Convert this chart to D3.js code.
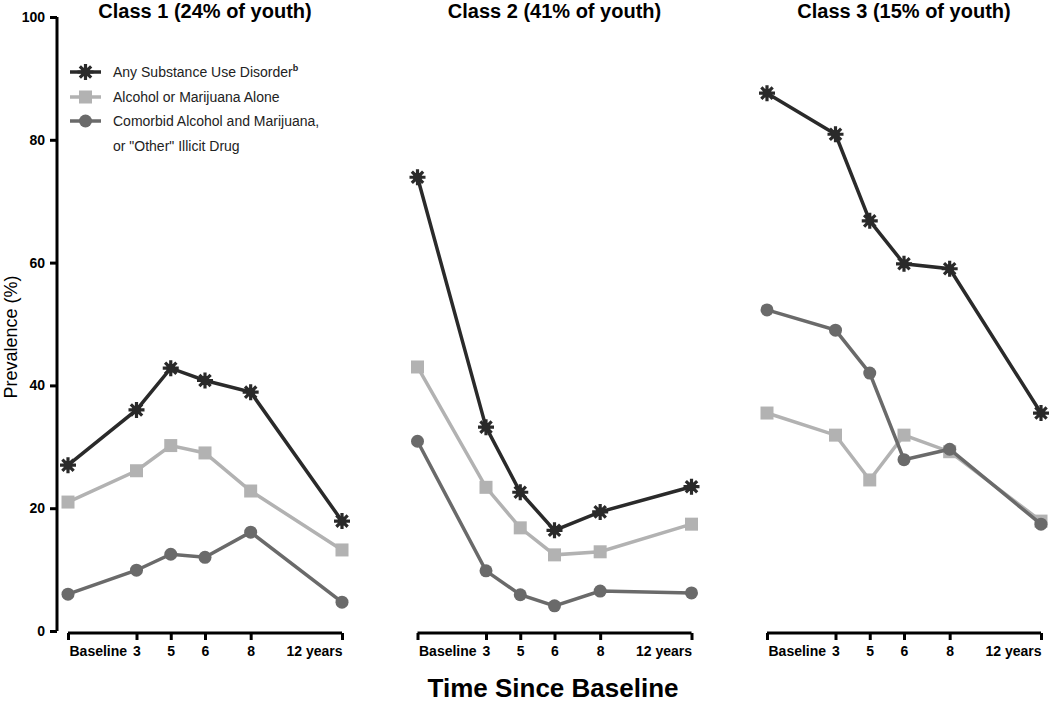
<!DOCTYPE html>
<html><head><meta charset="utf-8">
<script src="https://cdn.jsdelivr.net/npm/d3@7"></script>
<style>body{margin:0;background:#fff}svg{display:block;font-family:"Liberation Sans",Arial,sans-serif}</style>
</head><body>
<svg id="c" width="1050" height="704"></svg>
<script>
const timePoints = [0, 3, 4.5, 6, 8, 12];
const timeLabels = ["Baseline", "3", "5", "6", "8", "12 years"];
const classTitles = ["Class 1 (24% of youth)", "Class 2 (41% of youth)", "Class 3 (15% of youth)"];
const seriesNames = ["Any Substance Use Disorder", "Alcohol or Marijuana Alone", "Comorbid Alcohol and Marijuana,"];
const yTicks = [0, 20, 40, 60, 80, 100];

const sudValues = [
  [27.0, 36.0, 42.8, 40.8, 38.9, 17.9],
  [73.9, 33.2, 22.6, 16.4, 19.4, 23.5],
  [87.6, 80.9, 66.8, 59.8, 59.0, 35.5]
];
const aloneValues = [
  [21.0, 26.1, 30.2, 29.0, 22.8, 13.2],
  [43.0, 23.4, 16.8, 12.4, 12.9, 17.4],
  [35.5, 31.9, 24.6, 31.9, 29.2, 17.9]
];
const comorbidValues = [
  [6.0, 9.9, 12.5, 12.0, 16.1, 4.7],
  [30.9, 9.8, 5.9, 4.1, 6.5, 6.2],
  [52.3, 49.0, 42.0, 27.9, 29.6, 17.4]
];

const colors = ["#2a2a2a", "#b2b2b2", "#6a6a6a"];
const markers = ["star", "square", "circle"];

const svg = d3.select("#c");
const y = d3.scaleLinear().domain([0, 100]).range([631, 17]);
const panelLeft = [68, 417.5, 767];
const panelW = 274;

function starPath(r) {
  let p = "";
  for (let i = 0; i < 8; i++) {
    const a = i * Math.PI / 4;
    p += `M0,0L${(r * Math.cos(a)).toFixed(2)},${(r * Math.sin(a)).toFixed(2)}`;
  }
  return p;
}

function drawMarker(g, type, color, cx, cy) {
  if (type === "star") {
    g.append("path").attr("d", starPath(8)).attr("transform", `translate(${cx},${cy})`)
      .attr("stroke", color).attr("stroke-width", 3.2).attr("fill", "none");
    g.append("circle").attr("cx", cx).attr("cy", cy).attr("r", 4.5).attr("fill", color);
  } else if (type === "square") {
    g.append("rect").attr("x", cx - 6.5).attr("y", cy - 6.5).attr("width", 13).attr("height", 13).attr("fill", color);
  } else {
    g.append("circle").attr("cx", cx).attr("cy", cy).attr("r", 6.5).attr("fill", color);
  }
}

// Y axis
const yAxisG = svg.append("g").attr("transform", "translate(57,0)")
  .call(d3.axisLeft(y).tickValues(yTicks).tickSize(7).tickPadding(5));
yAxisG.select(".domain").attr("stroke", "#000").attr("stroke-width", 3).attr("d", "M0,17V631");
yAxisG.selectAll(".tick line").attr("stroke", "#000").attr("stroke-width", 3);
yAxisG.selectAll(".tick text").attr("font-size", 14).attr("font-weight", "bold").attr("fill", "#000")
  .attr("font-family", "Liberation Sans, Arial, sans-serif");

svg.append("text").attr("transform", "translate(17,337) rotate(-90)").attr("text-anchor", "middle")
  .attr("font-size", 18).attr("fill", "#000").text("Prevalence (%)");

svg.append("text").attr("x", 553).attr("y", 697).attr("text-anchor", "middle")
  .attr("font-size", 26).attr("font-weight", "bold").attr("fill", "#000").text("Time Since Baseline");

const allSeries = [sudValues, aloneValues, comorbidValues];

panelLeft.forEach((left, pi) => {
  const x = d3.scaleLinear().domain([0, 12]).range([left, left + panelW]);
  const g = svg.append("g");
  g.append("text").attr("x", left + panelW / 2).attr("y", 18).attr("text-anchor", "middle")
    .attr("font-size", 20).attr("font-weight", "bold").attr("fill", "#000").text(classTitles[pi]);
  const xa = g.append("g").attr("transform", "translate(0,633)")
    .call(d3.axisBottom(x).tickValues(timePoints).tickSize(7).tickPadding(6)
      .tickFormat((d, i) => timeLabels[i]));
  xa.select(".domain").attr("stroke", "#000").attr("stroke-width", 3).attr("d", `M${left},0H${left + panelW}`);
  xa.selectAll(".tick line").attr("stroke", "#000").attr("stroke-width", 3);
  xa.selectAll(".tick text").attr("font-size", 14).attr("font-weight", "bold").attr("fill", "#000")
    .attr("font-family", "Liberation Sans, Arial, sans-serif")
    .attr("text-anchor", (d, i) => i === 0 ? "start" : (i === timePoints.length - 1 ? "end" : "middle"))
    .attr("dx", (d, i) => i === 0 ? 1 : 0);

  [1, 2, 0].forEach(si => {
    const vals = allSeries[si][pi];
    const line = d3.line().x((d, i) => x(timePoints[i])).y(d => y(d));
    g.append("path").attr("d", line(vals)).attr("fill", "none").attr("stroke", colors[si]).attr("stroke-width", 3.5);
    vals.forEach((v, i) => drawMarker(g, markers[si], colors[si], x(timePoints[i]), y(v)));
  });
});

// legend
const lg = svg.append("g");
const legendY = [72, 97, 121];
seriesNames.forEach((name, i) => {
  lg.append("line").attr("x1", 70).attr("x2", 101).attr("y1", legendY[i]).attr("y2", legendY[i])
    .attr("stroke", colors[i]).attr("stroke-width", 3.5);
  drawMarker(lg, markers[i], colors[i], 85.5, legendY[i]);
  const t = lg.append("text").attr("x", 113).attr("y", legendY[i] + 5).attr("font-size", 14).attr("fill", "#222").text(name);
  if (i === 0) t.append("tspan").attr("dy", -6).attr("font-size", 9).attr("font-weight", "bold").text("b");
});
lg.append("text").attr("x", 113).attr("y", 151).attr("font-size", 14).attr("fill", "#222").text("or \"Other\" Illicit Drug");
</script>
</body></html>
